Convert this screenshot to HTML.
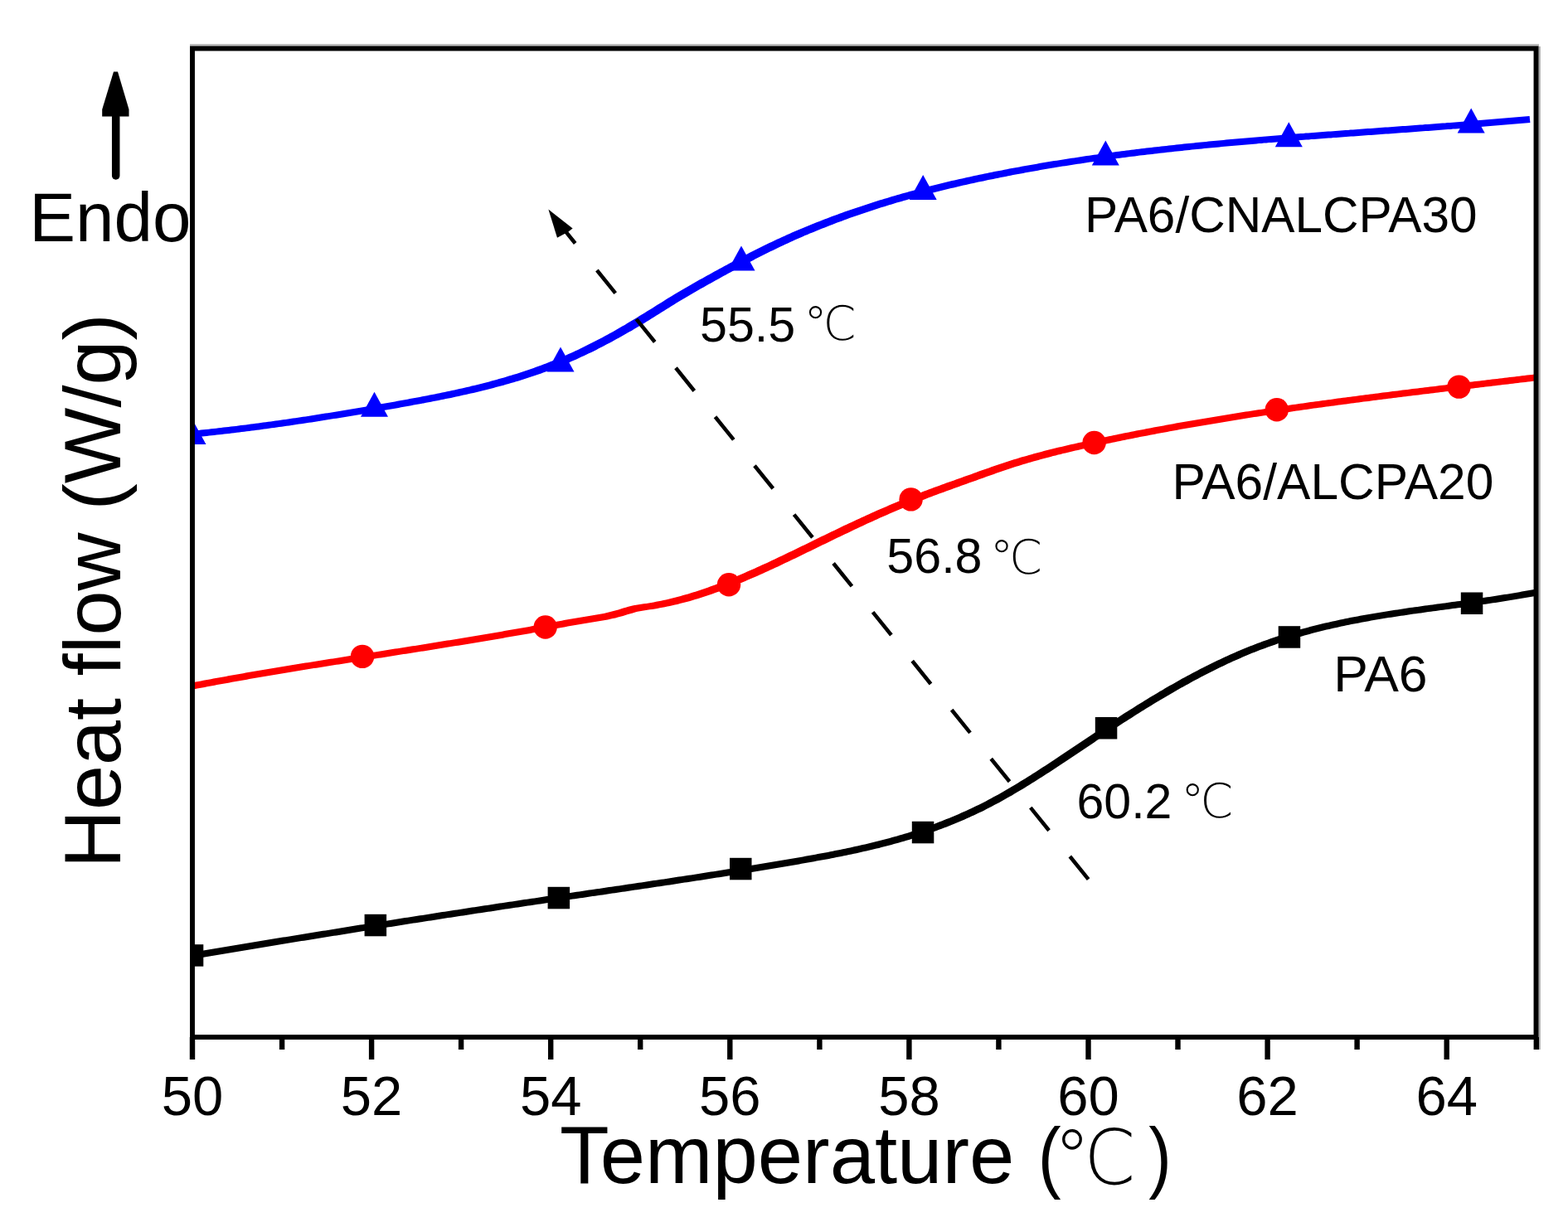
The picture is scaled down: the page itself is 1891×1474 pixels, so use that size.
<!DOCTYPE html>
<html><head><meta charset="utf-8"><title>DSC curves</title><style>
html,body{margin:0;padding:0;background:#fff;overflow:hidden;}
svg{display:block;}
text{font-family:'Liberation Sans',Arial,sans-serif;fill:#000;}
.tl{font-size:67px;}
</style></head><body>
<svg width="1891" height="1474" viewBox="0 0 1891 1474">
<defs><clipPath id="pc"><rect x="232" y="58" width="1621" height="1193"/></clipPath></defs>
<g clip-path="url(#pc)">
<path d="M228.4,528.1 L231.4,527.8 L234.4,527.5 L237.4,527.2 L240.4,526.9 L243.4,526.6 L246.4,526.3 L249.4,525.9 L252.4,525.6 L255.4,525.3 L258.4,525.0 L261.4,524.6 L264.5,524.3 L267.5,523.9 L270.5,523.6 L273.5,523.2 L276.5,522.9 L279.5,522.5 L282.5,522.2 L285.5,521.8 L288.5,521.4 L291.5,521.1 L294.5,520.7 L297.5,520.3 L300.5,519.9 L303.5,519.5 L306.5,519.2 L309.5,518.8 L312.5,518.4 L315.5,518.0 L318.5,517.6 L321.5,517.2 L324.5,516.8 L327.5,516.3 L330.5,515.9 L333.6,515.5 L336.6,515.1 L339.6,514.7 L342.6,514.2 L345.6,513.8 L348.6,513.4 L351.6,512.9 L354.6,512.5 L357.6,512.1 L360.6,511.6 L363.6,511.2 L366.6,510.7 L369.6,510.3 L372.6,509.8 L375.6,509.4 L378.6,508.9 L381.6,508.4 L384.6,508.0 L387.6,507.5 L390.6,507.0 L393.6,506.6 L396.6,506.1 L399.6,505.6 L402.6,505.1 L405.6,504.7 L408.6,504.2 L411.6,503.7 L414.7,503.2 L417.7,502.7 L420.7,502.2 L423.7,501.7 L426.7,501.2 L429.7,500.7 L432.7,500.2 L435.7,499.7 L438.7,499.2 L441.7,498.7 L444.7,498.2 L447.7,497.7 L450.7,497.2 L453.7,496.6 L456.7,496.1 L459.7,495.6 L462.7,495.1 L465.7,494.5 L468.7,494.0 L471.7,493.5 L474.7,492.9 L477.7,492.4 L480.7,491.9 L483.7,491.3 L486.7,490.8 L489.7,490.2 L492.7,489.7 L495.7,489.2 L498.7,488.6 L501.7,488.1 L504.8,487.5 L507.8,486.9 L510.8,486.4 L513.8,485.8 L516.8,485.2 L519.8,484.7 L522.8,484.1 L525.8,483.5 L528.8,482.9 L531.8,482.3 L534.8,481.7 L537.8,481.1 L540.8,480.5 L543.9,479.9 L546.9,479.2 L549.9,478.6 L552.9,477.9 L555.9,477.3 L558.9,476.6 L561.9,476.0 L564.9,475.3 L568.0,474.6 L571.0,473.9 L574.0,473.2 L577.0,472.5 L580.0,471.7 L583.0,471.0 L586.1,470.3 L589.1,469.5 L592.1,468.7 L595.1,467.9 L598.1,467.1 L601.1,466.3 L604.2,465.5 L607.2,464.7 L610.2,463.8 L613.2,463.0 L616.3,462.1 L619.3,461.2 L622.3,460.3 L625.3,459.4 L628.3,458.4 L631.4,457.5 L634.4,456.5 L637.4,455.5 L640.4,454.5 L643.5,453.5 L646.5,452.5 L649.5,451.4 L652.6,450.4 L655.6,449.3 L658.6,448.2 L661.6,447.0 L664.7,445.9 L667.7,444.7 L670.7,443.6 L673.8,442.4 L676.8,441.1 L679.8,439.9 L682.8,438.6 L685.9,437.4 L688.9,436.1 L691.9,434.7 L695.0,433.4 L698.0,432.0 L701.0,430.6 L704.1,429.2 L707.1,427.8 L710.1,426.3 L713.2,424.9 L716.2,423.4 L719.2,421.9 L722.2,420.3 L725.3,418.8 L728.3,417.2 L731.3,415.6 L734.4,414.0 L737.4,412.4 L740.4,410.8 L743.4,409.1 L746.4,407.5 L749.5,405.8 L752.5,404.1 L755.5,402.3 L758.5,400.6 L761.6,398.9 L764.6,397.1 L767.6,395.3 L770.6,393.5 L773.6,391.7 L776.7,389.9 L779.7,388.0 L782.7,386.2 L785.7,384.3 L788.7,382.5 L791.7,380.6 L794.7,378.7 L797.7,376.8 L800.7,374.9 L803.7,373.1 L806.7,371.2 L809.7,369.3 L812.7,367.5 L815.7,365.6 L818.6,363.8 L821.6,362.0 L824.6,360.2 L827.6,358.4 L830.6,356.7 L833.5,354.9 L836.5,353.2 L839.5,351.5 L842.5,349.8 L845.5,348.1 L848.5,346.4 L851.4,344.7 L854.4,343.0 L857.4,341.4 L860.4,339.7 L863.4,338.0 L866.4,336.4 L869.4,334.7 L872.4,333.1 L875.4,331.4 L878.4,329.8 L881.4,328.2 L884.4,326.6 L887.4,324.9 L890.3,323.3 L893.3,321.7 L896.3,320.2 L899.3,318.6 L902.3,317.0 L905.3,315.4 L908.3,313.9 L911.2,312.3 L914.2,310.8 L917.2,309.3 L920.2,307.8 L923.2,306.3 L926.2,304.8 L929.1,303.3 L932.1,301.9 L935.1,300.4 L938.1,299.0 L941.1,297.6 L944.0,296.2 L947.0,294.8 L950.0,293.4 L953.0,292.0 L955.9,290.7 L958.9,289.3 L961.9,288.0 L964.9,286.7 L967.9,285.4 L970.8,284.1 L973.8,282.9 L976.8,281.6 L979.8,280.4 L982.8,279.2 L985.7,277.9 L988.7,276.7 L991.7,275.5 L994.7,274.4 L997.7,273.2 L1000.7,272.0 L1003.6,270.9 L1006.6,269.7 L1009.6,268.6 L1012.6,267.5 L1015.6,266.4 L1018.6,265.3 L1021.5,264.2 L1024.5,263.1 L1027.5,262.1 L1030.5,261.0 L1033.5,260.0 L1036.5,258.9 L1039.4,257.9 L1042.4,256.9 L1045.4,255.9 L1048.4,254.9 L1051.4,253.9 L1054.4,253.0 L1057.4,252.0 L1060.3,251.0 L1063.3,250.1 L1066.3,249.2 L1069.3,248.2 L1072.3,247.3 L1075.3,246.4 L1078.3,245.5 L1081.2,244.6 L1084.2,243.7 L1087.2,242.9 L1090.2,242.0 L1093.2,241.2 L1096.2,240.3 L1099.2,239.5 L1102.1,238.6 L1105.1,237.8 L1108.1,237.0 L1111.1,236.2 L1114.1,235.4 L1117.1,234.6 L1120.1,233.8 L1123.1,233.0 L1126.1,232.3 L1129.0,231.5 L1132.0,230.8 L1135.0,230.0 L1138.0,229.3 L1141.0,228.5 L1144.0,227.8 L1147.0,227.1 L1150.0,226.4 L1153.0,225.7 L1155.9,225.0 L1158.9,224.3 L1161.9,223.6 L1164.9,222.9 L1167.9,222.3 L1170.9,221.6 L1173.9,220.9 L1176.9,220.3 L1179.9,219.6 L1182.9,219.0 L1185.9,218.4 L1188.8,217.7 L1191.8,217.1 L1194.8,216.5 L1197.8,215.9 L1200.8,215.3 L1203.8,214.7 L1206.8,214.1 L1209.8,213.5 L1212.8,212.9 L1215.8,212.3 L1218.8,211.7 L1221.8,211.1 L1224.8,210.6 L1227.7,210.0 L1230.7,209.4 L1233.7,208.9 L1236.7,208.3 L1239.7,207.8 L1242.7,207.3 L1245.7,206.7 L1248.7,206.2 L1251.7,205.7 L1254.7,205.1 L1257.7,204.6 L1260.7,204.1 L1263.7,203.6 L1266.7,203.1 L1269.7,202.6 L1272.7,202.1 L1275.6,201.6 L1278.6,201.1 L1281.6,200.6 L1284.6,200.2 L1287.6,199.7 L1290.6,199.2 L1293.6,198.7 L1296.6,198.3 L1299.6,197.8 L1302.6,197.4 L1305.6,196.9 L1308.6,196.5 L1311.6,196.0 L1314.6,195.6 L1317.6,195.2 L1320.6,194.7 L1323.6,194.3 L1326.6,193.9 L1329.5,193.5 L1332.5,193.1 L1335.5,192.7 L1338.5,192.3 L1341.5,191.9 L1344.5,191.5 L1347.5,191.1 L1350.5,190.7 L1353.5,190.3 L1356.5,189.9 L1359.5,189.5 L1362.5,189.1 L1365.5,188.8 L1368.5,188.4 L1371.5,188.0 L1374.5,187.6 L1377.5,187.3 L1380.5,186.9 L1383.5,186.6 L1386.5,186.2 L1389.5,185.9 L1392.5,185.5 L1395.5,185.2 L1398.5,184.8 L1401.4,184.5 L1404.4,184.2 L1407.4,183.8 L1410.4,183.5 L1413.4,183.2 L1416.4,182.8 L1419.4,182.5 L1422.4,182.2 L1425.4,181.9 L1428.4,181.6 L1431.4,181.2 L1434.4,180.9 L1437.4,180.6 L1440.4,180.3 L1443.4,180.0 L1446.4,179.7 L1449.4,179.4 L1452.4,179.1 L1455.4,178.8 L1458.4,178.5 L1461.4,178.3 L1464.4,178.0 L1467.4,177.7 L1470.4,177.4 L1473.4,177.1 L1476.4,176.8 L1479.4,176.6 L1482.4,176.3 L1485.4,176.0 L1488.4,175.8 L1491.4,175.5 L1494.4,175.2 L1497.4,175.0 L1500.3,174.7 L1503.3,174.4 L1506.3,174.2 L1509.3,173.9 L1512.3,173.7 L1515.3,173.4 L1518.3,173.1 L1521.3,172.9 L1524.3,172.6 L1527.3,172.4 L1530.3,172.1 L1533.3,171.9 L1536.3,171.7 L1539.3,171.4 L1542.3,171.2 L1545.3,170.9 L1548.3,170.7 L1551.3,170.5 L1554.3,170.2 L1557.3,170.0 L1560.3,169.8 L1563.3,169.5 L1566.3,169.3 L1569.3,169.1 L1572.3,168.8 L1575.3,168.6 L1578.3,168.4 L1581.3,168.1 L1584.3,167.9 L1587.3,167.7 L1590.3,167.5 L1593.3,167.2 L1596.3,167.0 L1599.3,166.8 L1602.3,166.6 L1605.3,166.4 L1608.3,166.1 L1611.3,165.9 L1614.3,165.7 L1617.3,165.5 L1620.3,165.3 L1623.3,165.0 L1626.3,164.8 L1629.3,164.6 L1632.3,164.4 L1635.3,164.2 L1638.3,164.0 L1641.3,163.7 L1644.3,163.5 L1647.3,163.3 L1650.3,163.1 L1653.3,162.9 L1656.3,162.7 L1659.3,162.5 L1662.3,162.2 L1665.3,162.0 L1668.3,161.8 L1671.3,161.6 L1674.3,161.4 L1677.3,161.2 L1680.3,161.0 L1683.3,160.7 L1686.3,160.5 L1689.3,160.3 L1692.3,160.1 L1695.3,159.9 L1698.3,159.7 L1701.3,159.4 L1704.3,159.2 L1707.3,159.0 L1710.3,158.8 L1713.3,158.6 L1716.3,158.3 L1719.3,158.1 L1722.3,157.9 L1725.3,157.7 L1728.3,157.5 L1731.3,157.2 L1734.3,157.0 L1737.3,156.8 L1740.3,156.6 L1743.3,156.3 L1746.3,156.1 L1749.3,155.9 L1752.3,155.6 L1755.3,155.4 L1758.3,155.2 L1761.3,155.0 L1764.3,154.7 L1767.3,154.5 L1770.3,154.2 L1773.3,154.0 L1776.3,153.8 L1779.3,153.5 L1782.3,153.3 L1785.3,153.1 L1788.3,152.8 L1791.3,152.6 L1794.3,152.3 L1797.3,152.1 L1800.3,151.8 L1803.3,151.6 L1806.3,151.3 L1809.3,151.1 L1812.3,150.8 L1815.3,150.6 L1818.3,150.3 L1821.3,150.0 L1824.3,149.8 L1827.4,149.5 L1830.4,149.2 L1833.4,149.0 L1836.4,148.7 L1839.4,148.4 L1842.4,148.2 L1845.4,147.9 L1844.6,139.9 L1841.6,140.2 L1838.6,140.5 L1835.6,140.7 L1832.6,141.0 L1829.6,141.3 L1826.6,141.5 L1823.7,141.8 L1820.7,142.1 L1817.7,142.3 L1814.7,142.6 L1811.7,142.8 L1808.7,143.1 L1805.7,143.3 L1802.7,143.6 L1799.7,143.8 L1796.7,144.1 L1793.7,144.3 L1790.7,144.6 L1787.7,144.8 L1784.7,145.1 L1781.7,145.3 L1778.7,145.6 L1775.7,145.8 L1772.7,146.0 L1769.7,146.3 L1766.7,146.5 L1763.7,146.7 L1760.7,147.0 L1757.7,147.2 L1754.7,147.4 L1751.7,147.7 L1748.7,147.9 L1745.7,148.1 L1742.7,148.4 L1739.7,148.6 L1736.7,148.8 L1733.7,149.0 L1730.7,149.3 L1727.7,149.5 L1724.7,149.7 L1721.7,149.9 L1718.7,150.1 L1715.7,150.4 L1712.7,150.6 L1709.7,150.8 L1706.7,151.0 L1703.7,151.2 L1700.7,151.5 L1697.7,151.7 L1694.7,151.9 L1691.7,152.1 L1688.7,152.3 L1685.7,152.5 L1682.7,152.8 L1679.7,153.0 L1676.7,153.2 L1673.7,153.4 L1670.7,153.6 L1667.7,153.8 L1664.7,154.0 L1661.7,154.3 L1658.7,154.5 L1655.7,154.7 L1652.7,154.9 L1649.7,155.1 L1646.7,155.3 L1643.7,155.6 L1640.7,155.8 L1637.7,156.0 L1634.7,156.2 L1631.7,156.4 L1628.7,156.6 L1625.7,156.9 L1622.7,157.1 L1619.7,157.3 L1616.7,157.5 L1613.7,157.7 L1610.7,157.9 L1607.7,158.2 L1604.7,158.4 L1601.7,158.6 L1598.7,158.8 L1595.7,159.0 L1592.7,159.3 L1589.7,159.5 L1586.7,159.7 L1583.7,159.9 L1580.7,160.2 L1577.7,160.4 L1574.7,160.6 L1571.7,160.9 L1568.7,161.1 L1565.7,161.3 L1562.7,161.5 L1559.7,161.8 L1556.7,162.0 L1553.7,162.2 L1550.7,162.5 L1547.7,162.7 L1544.7,163.0 L1541.7,163.2 L1538.7,163.4 L1535.7,163.7 L1532.7,163.9 L1529.7,164.2 L1526.7,164.4 L1523.7,164.7 L1520.7,164.9 L1517.7,165.2 L1514.7,165.4 L1511.7,165.7 L1508.7,165.9 L1505.7,166.2 L1502.7,166.5 L1499.7,166.7 L1496.6,167.0 L1493.6,167.2 L1490.6,167.5 L1487.6,167.8 L1484.6,168.1 L1481.6,168.3 L1478.6,168.6 L1475.6,168.9 L1472.6,169.2 L1469.6,169.4 L1466.6,169.7 L1463.6,170.0 L1460.6,170.3 L1457.6,170.6 L1454.6,170.9 L1451.6,171.2 L1448.6,171.5 L1445.6,171.8 L1442.6,172.1 L1439.6,172.4 L1436.6,172.7 L1433.6,173.0 L1430.6,173.3 L1427.6,173.6 L1424.6,173.9 L1421.6,174.2 L1418.6,174.6 L1415.6,174.9 L1412.6,175.2 L1409.6,175.5 L1406.6,175.9 L1403.6,176.2 L1400.6,176.5 L1397.5,176.9 L1394.5,177.2 L1391.5,177.6 L1388.5,177.9 L1385.5,178.3 L1382.5,178.6 L1379.5,179.0 L1376.5,179.3 L1373.5,179.7 L1370.5,180.1 L1367.5,180.4 L1364.5,180.8 L1361.5,181.2 L1358.5,181.6 L1355.5,182.0 L1352.5,182.3 L1349.5,182.7 L1346.5,183.1 L1343.5,183.5 L1340.5,183.9 L1337.5,184.3 L1334.5,184.7 L1331.5,185.1 L1328.5,185.6 L1325.4,186.0 L1322.4,186.4 L1319.4,186.8 L1316.4,187.3 L1313.4,187.7 L1310.4,188.1 L1307.4,188.6 L1304.4,189.0 L1301.4,189.5 L1298.4,189.9 L1295.4,190.4 L1292.4,190.8 L1289.4,191.3 L1286.4,191.8 L1283.4,192.2 L1280.4,192.7 L1277.4,193.2 L1274.4,193.7 L1271.3,194.1 L1268.3,194.6 L1265.3,195.1 L1262.3,195.6 L1259.3,196.1 L1256.3,196.6 L1253.3,197.1 L1250.3,197.7 L1247.3,198.2 L1244.3,198.7 L1241.3,199.2 L1238.3,199.8 L1235.3,200.3 L1232.3,200.8 L1229.3,201.4 L1226.3,201.9 L1223.2,202.5 L1220.2,203.1 L1217.2,203.6 L1214.2,204.2 L1211.2,204.8 L1208.2,205.4 L1205.2,206.0 L1202.2,206.5 L1199.2,207.1 L1196.2,207.7 L1193.2,208.3 L1190.2,209.0 L1187.2,209.6 L1184.1,210.2 L1181.1,210.8 L1178.1,211.5 L1175.1,212.1 L1172.1,212.8 L1169.1,213.4 L1166.1,214.1 L1163.1,214.7 L1160.1,215.4 L1157.1,216.1 L1154.1,216.8 L1151.0,217.4 L1148.0,218.1 L1145.0,218.8 L1142.0,219.6 L1139.0,220.3 L1136.0,221.0 L1133.0,221.7 L1130.0,222.5 L1127.0,223.2 L1123.9,224.0 L1120.9,224.7 L1117.9,225.5 L1114.9,226.3 L1111.9,227.0 L1108.9,227.8 L1105.9,228.6 L1102.9,229.4 L1099.9,230.3 L1096.8,231.1 L1093.8,231.9 L1090.8,232.7 L1087.8,233.6 L1084.8,234.5 L1081.8,235.3 L1078.8,236.2 L1075.7,237.1 L1072.7,238.0 L1069.7,238.9 L1066.7,239.8 L1063.7,240.7 L1060.7,241.6 L1057.7,242.6 L1054.6,243.5 L1051.6,244.5 L1048.6,245.4 L1045.6,246.4 L1042.6,247.4 L1039.6,248.4 L1036.6,249.4 L1033.5,250.4 L1030.5,251.4 L1027.5,252.5 L1024.5,253.5 L1021.5,254.6 L1018.5,255.6 L1015.4,256.7 L1012.4,257.8 L1009.4,258.9 L1006.4,260.0 L1003.4,261.1 L1000.4,262.2 L997.3,263.4 L994.3,264.5 L991.3,265.7 L988.3,266.9 L985.3,268.1 L982.3,269.3 L979.2,270.5 L976.2,271.7 L973.2,272.9 L970.2,274.2 L967.2,275.5 L964.1,276.7 L961.1,278.0 L958.1,279.3 L955.1,280.6 L952.1,282.0 L949.0,283.3 L946.0,284.7 L943.0,286.0 L940.0,287.4 L936.9,288.8 L933.9,290.2 L930.9,291.7 L927.9,293.1 L924.9,294.6 L921.8,296.0 L918.8,297.5 L915.8,299.0 L912.8,300.5 L909.8,302.1 L906.8,303.6 L903.7,305.1 L900.7,306.7 L897.7,308.2 L894.7,309.8 L891.7,311.4 L888.7,313.0 L885.7,314.6 L882.6,316.2 L879.6,317.8 L876.6,319.4 L873.6,321.1 L870.6,322.7 L867.6,324.3 L864.6,326.0 L861.6,327.6 L858.6,329.3 L855.6,330.9 L852.6,332.6 L849.6,334.3 L846.6,336.0 L843.5,337.6 L840.5,339.3 L837.5,341.0 L834.5,342.7 L831.5,344.5 L828.5,346.2 L825.4,347.9 L822.4,349.7 L819.4,351.5 L816.4,353.3 L813.4,355.1 L810.3,356.9 L807.3,358.8 L804.3,360.6 L801.3,362.5 L798.3,364.4 L795.3,366.2 L792.3,368.1 L789.3,370.0 L786.3,371.9 L783.3,373.7 L780.3,375.6 L777.3,377.5 L774.3,379.3 L771.3,381.1 L768.4,383.0 L765.4,384.8 L762.4,386.6 L759.4,388.3 L756.4,390.1 L753.5,391.9 L750.5,393.6 L747.5,395.3 L744.5,397.0 L741.6,398.7 L738.6,400.4 L735.6,402.0 L732.6,403.7 L729.6,405.3 L726.7,406.9 L723.7,408.5 L720.7,410.0 L717.8,411.6 L714.8,413.1 L711.8,414.6 L708.8,416.1 L705.9,417.6 L702.9,419.1 L699.9,420.5 L697.0,421.9 L694.0,423.3 L691.0,424.7 L688.1,426.0 L685.1,427.3 L682.1,428.7 L679.2,429.9 L676.2,431.2 L673.2,432.5 L670.2,433.7 L667.3,434.9 L664.3,436.1 L661.3,437.3 L658.4,438.4 L655.4,439.5 L652.4,440.7 L649.4,441.8 L646.5,442.8 L643.5,443.9 L640.5,444.9 L637.6,446.0 L634.6,447.0 L631.6,448.0 L628.6,449.0 L625.7,449.9 L622.7,450.9 L619.7,451.8 L616.7,452.7 L613.7,453.6 L610.8,454.5 L607.8,455.4 L604.8,456.3 L601.8,457.1 L598.9,457.9 L595.9,458.8 L592.9,459.6 L589.9,460.4 L586.9,461.2 L583.9,461.9 L581.0,462.7 L578.0,463.5 L575.0,464.2 L572.0,464.9 L569.0,465.6 L566.0,466.4 L563.1,467.1 L560.1,467.7 L557.1,468.4 L554.1,469.1 L551.1,469.8 L548.1,470.4 L545.1,471.1 L542.1,471.7 L539.2,472.3 L536.2,473.0 L533.2,473.6 L530.2,474.2 L527.2,474.8 L524.2,475.4 L521.2,476.0 L518.2,476.6 L515.2,477.2 L512.2,477.7 L509.2,478.3 L506.2,478.9 L503.2,479.4 L500.3,480.0 L497.3,480.6 L494.3,481.1 L491.3,481.7 L488.3,482.2 L485.3,482.8 L482.3,483.3 L479.3,483.8 L476.3,484.4 L473.3,484.9 L470.3,485.5 L467.3,486.0 L464.3,486.5 L461.3,487.0 L458.3,487.6 L455.3,488.1 L452.3,488.6 L449.3,489.1 L446.3,489.7 L443.3,490.2 L440.3,490.7 L437.3,491.2 L434.3,491.7 L431.3,492.2 L428.3,492.7 L425.3,493.2 L422.3,493.7 L419.3,494.2 L416.3,494.7 L413.3,495.2 L410.4,495.7 L407.4,496.2 L404.4,496.7 L401.4,497.2 L398.4,497.7 L395.4,498.2 L392.4,498.6 L389.4,499.1 L386.4,499.6 L383.4,500.1 L380.4,500.5 L377.4,501.0 L374.4,501.5 L371.4,501.9 L368.4,502.4 L365.4,502.8 L362.4,503.3 L359.4,503.7 L356.4,504.2 L353.4,504.6 L350.4,505.0 L347.4,505.5 L344.4,505.9 L341.4,506.3 L338.4,506.7 L335.4,507.2 L332.4,507.6 L329.5,508.0 L326.5,508.4 L323.5,508.8 L320.5,509.2 L317.5,509.6 L314.5,510.0 L311.5,510.4 L308.5,510.8 L305.5,511.2 L302.5,511.6 L299.5,512.0 L296.5,512.4 L293.5,512.8 L290.5,513.1 L287.5,513.5 L284.5,513.9 L281.5,514.2 L278.5,514.6 L275.5,514.9 L272.5,515.3 L269.5,515.6 L266.5,516.0 L263.5,516.3 L260.6,516.7 L257.6,517.0 L254.6,517.3 L251.6,517.7 L248.6,518.0 L245.6,518.3 L242.6,518.6 L239.6,518.9 L236.6,519.3 L233.6,519.6 L230.6,519.9 L227.6,520.2Z" fill="#0000ff"/>
<path d="M228.8,832.3 L231.8,831.7 L234.8,831.2 L237.8,830.6 L240.8,830.0 L243.8,829.5 L246.8,828.9 L249.8,828.3 L252.7,827.8 L255.7,827.2 L258.7,826.7 L261.7,826.1 L264.7,825.5 L267.7,825.0 L270.7,824.5 L273.7,823.9 L276.7,823.4 L279.7,822.8 L282.7,822.3 L285.7,821.8 L288.7,821.2 L291.7,820.7 L294.7,820.2 L297.7,819.7 L300.7,819.1 L303.7,818.6 L306.7,818.1 L309.7,817.6 L312.7,817.1 L315.7,816.5 L318.7,816.0 L321.7,815.5 L324.7,815.0 L327.7,814.5 L330.7,814.0 L333.7,813.5 L336.7,813.0 L339.7,812.5 L342.7,812.0 L345.7,811.5 L348.7,811.0 L351.7,810.5 L354.7,810.0 L357.6,809.5 L360.6,809.0 L363.6,808.6 L366.6,808.1 L369.6,807.6 L372.6,807.1 L375.6,806.6 L378.6,806.1 L381.6,805.7 L384.6,805.2 L387.6,804.7 L390.6,804.2 L393.6,803.7 L396.6,803.3 L399.6,802.8 L402.6,802.3 L405.6,801.8 L408.6,801.4 L411.6,800.9 L414.6,800.4 L417.6,799.9 L420.6,799.5 L423.6,799.0 L426.6,798.5 L429.6,798.1 L432.6,797.6 L435.6,797.1 L438.6,796.6 L441.6,796.2 L444.6,795.7 L447.6,795.2 L450.6,794.8 L453.6,794.3 L456.6,793.8 L459.6,793.4 L462.6,792.9 L465.6,792.4 L468.6,792.0 L471.6,791.5 L474.6,791.0 L477.6,790.6 L480.6,790.1 L483.6,789.6 L486.6,789.1 L489.6,788.7 L492.6,788.2 L495.6,787.7 L498.6,787.3 L501.6,786.8 L504.6,786.3 L507.6,785.8 L510.6,785.4 L513.6,784.9 L516.6,784.4 L519.6,783.9 L522.6,783.5 L525.6,783.0 L528.6,782.5 L531.6,782.0 L534.6,781.6 L537.6,781.1 L540.6,780.6 L543.6,780.1 L546.6,779.6 L549.6,779.1 L552.6,778.7 L555.6,778.2 L558.7,777.7 L561.7,777.2 L564.7,776.7 L567.7,776.2 L570.7,775.7 L573.7,775.2 L576.7,774.7 L579.7,774.2 L582.7,773.7 L585.7,773.2 L588.7,772.7 L591.7,772.2 L594.7,771.7 L597.7,771.2 L600.7,770.7 L603.7,770.2 L606.7,769.7 L609.7,769.1 L612.7,768.6 L615.7,768.1 L618.7,767.6 L621.7,767.1 L624.7,766.5 L627.7,766.0 L630.7,765.5 L633.7,765.0 L636.7,764.4 L639.7,763.9 L642.7,763.3 L645.7,762.8 L648.7,762.3 L651.7,761.7 L654.7,761.2 L657.7,760.6 L660.7,760.1 L663.7,759.5 L666.7,759.0 L669.7,758.4 L672.7,757.8 L675.7,757.3 L678.7,756.7 L681.7,756.2 L684.7,755.6 L687.7,755.1 L690.7,754.6 L693.7,754.0 L696.7,753.5 L699.7,753.0 L702.6,752.5 L705.6,752.0 L708.6,751.5 L711.6,751.1 L714.6,750.6 L717.7,750.1 L720.7,749.6 L723.7,749.1 L726.8,748.6 L729.8,748.0 L732.9,747.4 L735.9,746.8 L739.0,746.1 L742.1,745.4 L745.2,744.6 L748.2,743.8 L751.3,742.9 L754.3,742.0 L757.3,741.1 L760.2,740.2 L763.1,739.4 L766.0,738.6 L768.8,737.8 L771.7,737.2 L774.6,736.7 L777.6,736.2 L780.6,735.8 L783.6,735.3 L786.6,734.9 L789.7,734.4 L792.7,733.9 L795.8,733.3 L798.8,732.8 L801.8,732.2 L804.9,731.6 L807.9,730.9 L811.0,730.3 L814.0,729.6 L817.0,728.9 L820.1,728.1 L823.1,727.3 L826.2,726.5 L829.2,725.7 L832.2,724.9 L835.3,724.0 L838.3,723.1 L841.3,722.2 L844.4,721.2 L847.4,720.2 L850.4,719.3 L853.5,718.3 L856.5,717.2 L859.5,716.2 L862.6,715.1 L865.6,714.0 L868.6,712.9 L871.6,711.8 L874.7,710.6 L877.7,709.5 L880.7,708.3 L883.7,707.1 L886.8,705.9 L889.8,704.7 L892.8,703.4 L895.8,702.2 L898.8,700.9 L901.9,699.6 L904.9,698.3 L907.9,697.0 L910.9,695.7 L913.9,694.4 L917.0,693.0 L920.0,691.7 L923.0,690.3 L926.0,689.0 L929.0,687.6 L932.0,686.2 L935.0,684.8 L938.1,683.4 L941.1,682.0 L944.1,680.6 L947.1,679.1 L950.1,677.7 L953.1,676.3 L956.1,674.8 L959.1,673.4 L962.1,671.9 L965.1,670.5 L968.1,669.0 L971.1,667.6 L974.1,666.1 L977.1,664.7 L980.1,663.2 L983.1,661.7 L986.1,660.3 L989.1,658.8 L992.1,657.3 L995.1,655.9 L998.1,654.4 L1001.1,653.0 L1004.1,651.5 L1007.1,650.1 L1010.1,648.6 L1013.1,647.2 L1016.1,645.7 L1019.1,644.3 L1022.1,642.9 L1025.1,641.4 L1028.1,640.0 L1031.1,638.6 L1034.0,637.2 L1037.0,635.8 L1040.0,634.4 L1043.0,633.0 L1046.0,631.6 L1049.0,630.3 L1052.0,628.9 L1055.0,627.5 L1058.0,626.2 L1060.9,624.8 L1063.9,623.5 L1066.9,622.2 L1069.9,620.9 L1072.9,619.6 L1075.9,618.3 L1078.9,617.0 L1081.8,615.7 L1084.8,614.4 L1087.8,613.2 L1090.8,611.9 L1093.8,610.7 L1096.8,609.5 L1099.7,608.3 L1102.7,607.1 L1105.7,605.9 L1108.7,604.7 L1111.7,603.5 L1114.7,602.4 L1117.6,601.2 L1120.6,600.1 L1123.6,599.0 L1126.6,597.8 L1129.6,596.7 L1132.6,595.6 L1135.6,594.5 L1138.6,593.4 L1141.6,592.3 L1144.6,591.2 L1147.5,590.2 L1150.5,589.1 L1153.5,588.0 L1156.5,586.9 L1159.5,585.8 L1162.5,584.8 L1165.5,583.7 L1168.5,582.6 L1171.5,581.5 L1174.5,580.5 L1177.5,579.4 L1180.5,578.3 L1183.5,577.2 L1186.5,576.2 L1189.5,575.1 L1192.5,574.0 L1195.5,572.9 L1198.5,571.9 L1201.5,570.8 L1204.5,569.8 L1207.5,568.8 L1210.4,567.7 L1213.4,566.7 L1216.4,565.7 L1219.4,564.7 L1222.3,563.8 L1225.3,562.8 L1228.3,561.9 L1231.3,561.0 L1234.3,560.1 L1237.2,559.2 L1240.2,558.3 L1243.2,557.4 L1246.2,556.6 L1249.2,555.7 L1252.1,554.9 L1255.1,554.1 L1258.1,553.3 L1261.1,552.5 L1264.1,551.7 L1267.1,550.9 L1270.0,550.1 L1273.0,549.4 L1276.0,548.6 L1279.0,547.9 L1282.0,547.1 L1285.0,546.4 L1288.0,545.7 L1291.0,545.0 L1294.0,544.3 L1296.9,543.6 L1299.9,542.9 L1302.9,542.2 L1305.9,541.6 L1308.9,540.9 L1311.9,540.2 L1314.9,539.6 L1317.9,538.9 L1320.9,538.3 L1323.9,537.6 L1326.9,537.0 L1329.9,536.3 L1332.9,535.7 L1335.9,535.1 L1338.9,534.4 L1341.8,533.8 L1344.8,533.2 L1347.8,532.6 L1350.8,531.9 L1353.8,531.3 L1356.8,530.7 L1359.8,530.1 L1362.8,529.5 L1365.8,528.9 L1368.8,528.3 L1371.8,527.7 L1374.8,527.1 L1377.8,526.5 L1380.8,526.0 L1383.8,525.4 L1386.8,524.8 L1389.8,524.2 L1392.8,523.7 L1395.8,523.1 L1398.8,522.5 L1401.7,522.0 L1404.7,521.4 L1407.7,520.9 L1410.7,520.3 L1413.7,519.8 L1416.7,519.2 L1419.7,518.7 L1422.7,518.1 L1425.7,517.6 L1428.7,517.1 L1431.7,516.5 L1434.7,516.0 L1437.7,515.5 L1440.7,514.9 L1443.7,514.4 L1446.7,513.9 L1449.7,513.4 L1452.7,512.9 L1455.7,512.4 L1458.7,511.9 L1461.7,511.4 L1464.7,510.9 L1467.7,510.4 L1470.7,509.9 L1473.7,509.4 L1476.6,508.9 L1479.6,508.4 L1482.6,507.9 L1485.6,507.4 L1488.6,506.9 L1491.6,506.4 L1494.6,506.0 L1497.6,505.5 L1500.6,505.0 L1503.6,504.5 L1506.6,504.1 L1509.6,503.6 L1512.6,503.1 L1515.6,502.7 L1518.6,502.2 L1521.6,501.8 L1524.6,501.3 L1527.6,500.9 L1530.6,500.4 L1533.6,500.0 L1536.6,499.5 L1539.6,499.1 L1542.6,498.6 L1545.6,498.2 L1548.6,497.8 L1551.6,497.3 L1554.6,496.9 L1557.6,496.5 L1560.6,496.0 L1563.6,495.6 L1566.6,495.2 L1569.6,494.7 L1572.6,494.3 L1575.6,493.9 L1578.6,493.5 L1581.6,493.1 L1584.5,492.6 L1587.5,492.2 L1590.5,491.8 L1593.5,491.4 L1596.5,491.0 L1599.5,490.6 L1602.5,490.2 L1605.5,489.8 L1608.5,489.4 L1611.5,489.0 L1614.5,488.6 L1617.5,488.2 L1620.5,487.8 L1623.5,487.4 L1626.5,487.0 L1629.5,486.6 L1632.5,486.2 L1635.5,485.8 L1638.5,485.4 L1641.5,485.0 L1644.5,484.6 L1647.5,484.2 L1650.5,483.9 L1653.5,483.5 L1656.5,483.1 L1659.5,482.7 L1662.5,482.3 L1665.5,481.9 L1668.5,481.6 L1671.5,481.2 L1674.5,480.8 L1677.5,480.4 L1680.5,480.1 L1683.5,479.7 L1686.5,479.3 L1689.5,478.9 L1692.5,478.6 L1695.5,478.2 L1698.5,477.8 L1701.5,477.5 L1704.5,477.1 L1707.5,476.7 L1710.5,476.4 L1713.5,476.0 L1716.5,475.6 L1719.5,475.3 L1722.5,474.9 L1725.5,474.5 L1728.5,474.2 L1731.5,473.8 L1734.5,473.4 L1737.5,473.1 L1740.5,472.7 L1743.5,472.3 L1746.5,472.0 L1749.5,471.6 L1752.5,471.3 L1755.5,470.9 L1758.5,470.5 L1761.5,470.2 L1764.5,469.8 L1767.5,469.5 L1770.5,469.1 L1773.5,468.8 L1776.5,468.4 L1779.5,468.0 L1782.5,467.7 L1785.5,467.3 L1788.5,467.0 L1791.5,466.6 L1794.5,466.3 L1797.5,465.9 L1800.5,465.5 L1803.5,465.2 L1806.5,464.8 L1809.5,464.5 L1812.5,464.1 L1815.5,463.8 L1818.5,463.4 L1821.5,463.0 L1824.5,462.7 L1827.5,462.3 L1830.5,462.0 L1833.5,461.6 L1836.5,461.2 L1839.5,460.9 L1842.5,460.5 L1845.5,460.2 L1848.5,459.8 L1851.5,459.4 L1854.5,459.1 L1853.5,451.1 L1850.5,451.5 L1847.5,451.9 L1844.5,452.2 L1841.5,452.6 L1838.5,452.9 L1835.5,453.3 L1832.5,453.7 L1829.5,454.0 L1826.5,454.4 L1823.5,454.7 L1820.5,455.1 L1817.5,455.5 L1814.5,455.8 L1811.5,456.2 L1808.5,456.5 L1805.5,456.9 L1802.5,457.2 L1799.5,457.6 L1796.5,458.0 L1793.5,458.3 L1790.5,458.7 L1787.5,459.0 L1784.5,459.4 L1781.5,459.7 L1778.5,460.1 L1775.5,460.5 L1772.5,460.8 L1769.5,461.2 L1766.5,461.5 L1763.5,461.9 L1760.5,462.2 L1757.5,462.6 L1754.5,463.0 L1751.5,463.3 L1748.5,463.7 L1745.5,464.0 L1742.5,464.4 L1739.5,464.8 L1736.5,465.1 L1733.5,465.5 L1730.5,465.9 L1727.5,466.2 L1724.5,466.6 L1721.5,466.9 L1718.5,467.3 L1715.5,467.7 L1712.5,468.0 L1709.5,468.4 L1706.5,468.8 L1703.5,469.1 L1700.5,469.5 L1697.5,469.9 L1694.5,470.3 L1691.5,470.6 L1688.5,471.0 L1685.5,471.4 L1682.5,471.7 L1679.5,472.1 L1676.5,472.5 L1673.5,472.9 L1670.5,473.3 L1667.5,473.6 L1664.5,474.0 L1661.5,474.4 L1658.5,474.8 L1655.5,475.2 L1652.5,475.5 L1649.5,475.9 L1646.5,476.3 L1643.5,476.7 L1640.5,477.1 L1637.5,477.5 L1634.5,477.9 L1631.5,478.3 L1628.5,478.7 L1625.5,479.0 L1622.5,479.4 L1619.5,479.8 L1616.5,480.2 L1613.5,480.6 L1610.5,481.0 L1607.5,481.4 L1604.5,481.9 L1601.5,482.3 L1598.5,482.7 L1595.5,483.1 L1592.5,483.5 L1589.5,483.9 L1586.5,484.3 L1583.5,484.7 L1580.4,485.1 L1577.4,485.6 L1574.4,486.0 L1571.4,486.4 L1568.4,486.8 L1565.4,487.3 L1562.4,487.7 L1559.4,488.1 L1556.4,488.5 L1553.4,489.0 L1550.4,489.4 L1547.4,489.8 L1544.4,490.3 L1541.4,490.7 L1538.4,491.2 L1535.4,491.6 L1532.4,492.1 L1529.4,492.5 L1526.4,493.0 L1523.4,493.4 L1520.4,493.9 L1517.4,494.3 L1514.4,494.8 L1511.4,495.2 L1508.4,495.7 L1505.4,496.2 L1502.4,496.6 L1499.4,497.1 L1496.4,497.6 L1493.4,498.0 L1490.4,498.5 L1487.4,499.0 L1484.4,499.5 L1481.4,499.9 L1478.4,500.4 L1475.4,500.9 L1472.3,501.4 L1469.3,501.9 L1466.3,502.4 L1463.3,502.9 L1460.3,503.4 L1457.3,503.9 L1454.3,504.4 L1451.3,504.9 L1448.3,505.4 L1445.3,505.9 L1442.3,506.4 L1439.3,506.9 L1436.3,507.5 L1433.3,508.0 L1430.3,508.5 L1427.3,509.0 L1424.3,509.6 L1421.3,510.1 L1418.3,510.6 L1415.3,511.2 L1412.3,511.7 L1409.3,512.3 L1406.3,512.8 L1403.3,513.4 L1400.3,513.9 L1397.2,514.5 L1394.2,515.0 L1391.2,515.6 L1388.2,516.2 L1385.2,516.7 L1382.2,517.3 L1379.2,517.9 L1376.2,518.5 L1373.2,519.0 L1370.2,519.6 L1367.2,520.2 L1364.2,520.8 L1361.2,521.4 L1358.2,522.0 L1355.2,522.6 L1352.2,523.2 L1349.2,523.8 L1346.2,524.4 L1343.2,525.0 L1340.2,525.7 L1337.1,526.3 L1334.1,526.9 L1331.1,527.5 L1328.1,528.2 L1325.1,528.8 L1322.1,529.4 L1319.1,530.1 L1316.1,530.7 L1313.1,531.4 L1310.1,532.0 L1307.1,532.7 L1304.1,533.4 L1301.1,534.0 L1298.1,534.7 L1295.1,535.4 L1292.0,536.1 L1289.0,536.8 L1286.0,537.5 L1283.0,538.2 L1280.0,538.9 L1277.0,539.6 L1274.0,540.3 L1271.0,541.1 L1268.0,541.8 L1264.9,542.6 L1261.9,543.3 L1258.9,544.1 L1255.9,544.9 L1252.9,545.7 L1249.9,546.5 L1246.8,547.3 L1243.8,548.2 L1240.8,549.0 L1237.8,549.9 L1234.8,550.7 L1231.7,551.6 L1228.7,552.5 L1225.7,553.4 L1222.7,554.3 L1219.7,555.3 L1216.6,556.2 L1213.6,557.2 L1210.6,558.2 L1207.6,559.2 L1204.5,560.2 L1201.5,561.2 L1198.5,562.3 L1195.5,563.3 L1192.5,564.4 L1189.5,565.4 L1186.5,566.5 L1183.5,567.6 L1180.5,568.6 L1177.5,569.7 L1174.5,570.8 L1171.5,571.9 L1168.5,573.0 L1165.5,574.0 L1162.5,575.1 L1159.5,576.2 L1156.5,577.3 L1153.5,578.3 L1150.5,579.4 L1147.5,580.5 L1144.5,581.6 L1141.4,582.6 L1138.4,583.7 L1135.4,584.8 L1132.4,585.9 L1129.4,587.0 L1126.4,588.1 L1123.4,589.2 L1120.4,590.3 L1117.4,591.5 L1114.4,592.6 L1111.3,593.7 L1108.3,594.9 L1105.3,596.0 L1102.3,597.2 L1099.3,598.4 L1096.3,599.6 L1093.2,600.8 L1090.2,602.0 L1087.2,603.2 L1084.2,604.5 L1081.2,605.7 L1078.2,607.0 L1075.1,608.3 L1072.1,609.6 L1069.1,610.9 L1066.1,612.2 L1063.1,613.5 L1060.1,614.8 L1057.1,616.1 L1054.0,617.5 L1051.0,618.8 L1048.0,620.2 L1045.0,621.5 L1042.0,622.9 L1039.0,624.3 L1036.0,625.7 L1033.0,627.1 L1030.0,628.5 L1026.9,629.9 L1023.9,631.3 L1020.9,632.7 L1017.9,634.1 L1014.9,635.6 L1011.9,637.0 L1008.9,638.4 L1005.9,639.9 L1002.9,641.3 L999.9,642.8 L996.9,644.2 L993.9,645.7 L990.9,647.1 L987.9,648.6 L984.9,650.1 L981.9,651.5 L978.9,653.0 L975.9,654.5 L972.9,655.9 L969.9,657.4 L966.9,658.8 L963.9,660.3 L960.9,661.8 L957.9,663.2 L954.9,664.7 L951.9,666.1 L948.9,667.5 L945.9,669.0 L942.9,670.4 L939.9,671.8 L936.9,673.3 L933.9,674.7 L931.0,676.1 L928.0,677.5 L925.0,678.9 L922.0,680.2 L919.0,681.6 L916.0,683.0 L913.0,684.3 L910.1,685.7 L907.1,687.0 L904.1,688.3 L901.1,689.6 L898.1,690.9 L895.2,692.2 L892.2,693.5 L889.2,694.8 L886.2,696.0 L883.2,697.2 L880.3,698.4 L877.3,699.6 L874.3,700.8 L871.3,702.0 L868.4,703.2 L865.4,704.3 L862.4,705.4 L859.4,706.5 L856.5,707.6 L853.5,708.7 L850.5,709.7 L847.6,710.7 L844.6,711.7 L841.6,712.7 L838.7,713.7 L835.7,714.6 L832.7,715.5 L829.8,716.4 L826.8,717.3 L823.8,718.1 L820.9,719.0 L817.9,719.8 L815.0,720.6 L812.0,721.3 L809.0,722.0 L806.1,722.7 L803.1,723.4 L800.2,724.1 L797.2,724.7 L794.2,725.3 L791.3,725.8 L788.3,726.4 L785.4,726.9 L782.4,727.4 L779.4,727.9 L776.4,728.3 L773.4,728.8 L770.3,729.2 L767.2,729.7 L764.0,730.3 L760.9,731.0 L757.8,731.8 L754.7,732.7 L751.7,733.6 L748.7,734.5 L745.8,735.4 L742.8,736.2 L739.9,737.1 L737.0,737.8 L734.1,738.6 L731.1,739.2 L728.2,739.9 L725.2,740.5 L722.3,741.1 L719.3,741.6 L716.3,742.1 L713.4,742.6 L710.4,743.1 L707.4,743.6 L704.4,744.1 L701.4,744.6 L698.3,745.0 L695.3,745.5 L692.3,746.0 L689.3,746.6 L686.3,747.1 L683.3,747.6 L680.3,748.1 L677.3,748.7 L674.3,749.2 L671.3,749.8 L668.3,750.3 L665.3,750.9 L662.3,751.5 L659.3,752.0 L656.3,752.6 L653.3,753.1 L650.3,753.7 L647.3,754.2 L644.3,754.8 L641.3,755.3 L638.3,755.9 L635.3,756.4 L632.3,756.9 L629.3,757.5 L626.3,758.0 L623.3,758.5 L620.3,759.1 L617.3,759.6 L614.3,760.1 L611.3,760.6 L608.3,761.1 L605.3,761.7 L602.3,762.2 L599.3,762.7 L596.3,763.2 L593.3,763.7 L590.3,764.2 L587.3,764.7 L584.3,765.2 L581.3,765.7 L578.3,766.2 L575.3,766.7 L572.3,767.2 L569.3,767.7 L566.3,768.2 L563.3,768.7 L560.3,769.2 L557.3,769.7 L554.4,770.2 L551.4,770.7 L548.4,771.2 L545.4,771.7 L542.4,772.2 L539.4,772.6 L536.4,773.1 L533.4,773.6 L530.4,774.1 L527.4,774.6 L524.4,775.0 L521.4,775.5 L518.4,776.0 L515.4,776.5 L512.4,777.0 L509.4,777.4 L506.4,777.9 L503.4,778.4 L500.4,778.9 L497.4,779.3 L494.4,779.8 L491.4,780.3 L488.4,780.7 L485.4,781.2 L482.4,781.7 L479.4,782.2 L476.4,782.6 L473.4,783.1 L470.4,783.6 L467.4,784.0 L464.4,784.5 L461.4,785.0 L458.4,785.4 L455.4,785.9 L452.4,786.4 L449.4,786.8 L446.4,787.3 L443.4,787.8 L440.4,788.2 L437.4,788.7 L434.4,789.2 L431.4,789.7 L428.4,790.1 L425.4,790.6 L422.4,791.1 L419.4,791.5 L416.4,792.0 L413.4,792.5 L410.4,792.9 L407.4,793.4 L404.4,793.9 L401.4,794.4 L398.4,794.8 L395.4,795.3 L392.4,795.8 L389.4,796.3 L386.4,796.7 L383.4,797.2 L380.4,797.7 L377.4,798.2 L374.4,798.7 L371.4,799.2 L368.4,799.6 L365.4,800.1 L362.4,800.6 L359.4,801.1 L356.4,801.6 L353.3,802.1 L350.3,802.6 L347.3,803.0 L344.3,803.5 L341.3,804.0 L338.3,804.5 L335.3,805.0 L332.3,805.5 L329.3,806.0 L326.3,806.5 L323.3,807.0 L320.3,807.5 L317.3,808.0 L314.3,808.6 L311.3,809.1 L308.3,809.6 L305.3,810.1 L302.3,810.6 L299.3,811.1 L296.3,811.6 L293.3,812.2 L290.3,812.7 L287.3,813.2 L284.3,813.7 L281.3,814.3 L278.3,814.8 L275.3,815.3 L272.3,815.9 L269.3,816.4 L266.3,817.0 L263.3,817.5 L260.3,818.1 L257.3,818.6 L254.3,819.2 L251.3,819.7 L248.2,820.3 L245.2,820.8 L242.2,821.4 L239.2,821.9 L236.2,822.5 L233.2,823.1 L230.2,823.7 L227.2,824.2Z" fill="#ff0000"/>
<path d="M228.7,1157.5 L231.7,1157.0 L234.7,1156.5 L237.7,1156.0 L240.7,1155.5 L243.7,1155.0 L246.7,1154.5 L249.7,1154.0 L252.7,1153.5 L255.7,1153.0 L258.7,1152.5 L261.7,1152.0 L264.7,1151.5 L267.7,1151.0 L270.7,1150.5 L273.7,1150.0 L276.7,1149.5 L279.7,1149.0 L282.7,1148.5 L285.7,1148.0 L288.7,1147.5 L291.7,1147.0 L294.7,1146.5 L297.7,1146.0 L300.7,1145.5 L303.7,1145.0 L306.7,1144.5 L309.7,1144.0 L312.7,1143.5 L315.7,1143.0 L318.7,1142.5 L321.7,1142.0 L324.7,1141.5 L327.7,1141.0 L330.7,1140.5 L333.7,1140.0 L336.6,1139.6 L339.6,1139.1 L342.6,1138.6 L345.6,1138.1 L348.6,1137.6 L351.6,1137.1 L354.6,1136.6 L357.6,1136.1 L360.6,1135.6 L363.6,1135.1 L366.6,1134.7 L369.6,1134.2 L372.6,1133.7 L375.6,1133.2 L378.6,1132.7 L381.6,1132.2 L384.6,1131.7 L387.6,1131.3 L390.6,1130.8 L393.6,1130.3 L396.6,1129.8 L399.6,1129.3 L402.6,1128.8 L405.6,1128.4 L408.6,1127.9 L411.6,1127.4 L414.6,1126.9 L417.6,1126.4 L420.6,1126.0 L423.6,1125.5 L426.6,1125.0 L429.6,1124.5 L432.6,1124.0 L435.6,1123.6 L438.6,1123.1 L441.6,1122.6 L444.6,1122.1 L447.6,1121.7 L450.6,1121.2 L453.6,1120.7 L456.6,1120.2 L459.6,1119.8 L462.6,1119.3 L465.6,1118.8 L468.6,1118.3 L471.6,1117.9 L474.6,1117.4 L477.6,1116.9 L480.6,1116.5 L483.6,1116.0 L486.6,1115.5 L489.6,1115.0 L492.6,1114.6 L495.6,1114.1 L498.6,1113.6 L501.6,1113.2 L504.6,1112.7 L507.6,1112.2 L510.6,1111.8 L513.6,1111.3 L516.6,1110.8 L519.6,1110.4 L522.6,1109.9 L525.6,1109.4 L528.6,1109.0 L531.6,1108.5 L534.6,1108.1 L537.6,1107.6 L540.6,1107.1 L543.6,1106.7 L546.6,1106.2 L549.6,1105.7 L552.6,1105.3 L555.6,1104.8 L558.6,1104.4 L561.6,1103.9 L564.6,1103.5 L567.6,1103.0 L570.6,1102.5 L573.6,1102.1 L576.6,1101.6 L579.6,1101.2 L582.6,1100.7 L585.6,1100.3 L588.6,1099.8 L591.6,1099.4 L594.6,1098.9 L597.6,1098.4 L600.6,1098.0 L603.6,1097.5 L606.6,1097.1 L609.6,1096.6 L612.6,1096.2 L615.6,1095.7 L618.6,1095.3 L621.6,1094.8 L624.6,1094.4 L627.6,1093.9 L630.6,1093.5 L633.6,1093.1 L636.6,1092.6 L639.6,1092.2 L642.6,1091.7 L645.6,1091.3 L648.6,1090.8 L651.6,1090.4 L654.6,1089.9 L657.6,1089.5 L660.6,1089.1 L663.6,1088.6 L666.6,1088.2 L669.6,1087.7 L672.6,1087.3 L675.6,1086.8 L678.6,1086.4 L681.6,1086.0 L684.6,1085.5 L687.6,1085.1 L690.6,1084.6 L693.6,1084.2 L696.6,1083.8 L699.6,1083.3 L702.6,1082.9 L705.6,1082.4 L708.6,1082.0 L711.6,1081.6 L714.6,1081.1 L717.6,1080.7 L720.6,1080.2 L723.6,1079.8 L726.6,1079.4 L729.6,1078.9 L732.6,1078.5 L735.6,1078.0 L738.6,1077.6 L741.6,1077.2 L744.6,1076.7 L747.6,1076.3 L750.6,1075.8 L753.6,1075.4 L756.6,1075.0 L759.6,1074.5 L762.6,1074.1 L765.6,1073.6 L768.6,1073.2 L771.6,1072.7 L774.6,1072.3 L777.6,1071.8 L780.6,1071.4 L783.6,1071.0 L786.6,1070.5 L789.6,1070.1 L792.6,1069.6 L795.6,1069.2 L798.6,1068.7 L801.6,1068.3 L804.6,1067.8 L807.6,1067.4 L810.6,1066.9 L813.6,1066.5 L816.6,1066.0 L819.6,1065.6 L822.6,1065.1 L825.6,1064.6 L828.6,1064.2 L831.6,1063.7 L834.6,1063.3 L837.6,1062.8 L840.6,1062.3 L843.6,1061.9 L846.6,1061.4 L849.6,1061.0 L852.6,1060.5 L855.6,1060.0 L858.6,1059.6 L861.6,1059.1 L864.6,1058.6 L867.6,1058.2 L870.6,1057.7 L873.6,1057.2 L876.6,1056.7 L879.6,1056.3 L882.6,1055.8 L885.6,1055.3 L888.6,1054.8 L891.6,1054.4 L894.6,1053.9 L897.6,1053.4 L900.6,1052.9 L903.6,1052.4 L906.6,1051.9 L909.6,1051.4 L912.6,1051.0 L915.7,1050.5 L918.7,1050.0 L921.7,1049.5 L924.7,1049.0 L927.7,1048.5 L930.7,1048.0 L933.7,1047.5 L936.7,1047.0 L939.7,1046.5 L942.7,1046.0 L945.7,1045.5 L948.7,1044.9 L951.7,1044.4 L954.7,1043.9 L957.7,1043.4 L960.7,1042.9 L963.7,1042.4 L966.7,1041.8 L969.7,1041.3 L972.7,1040.8 L975.7,1040.3 L978.7,1039.7 L981.7,1039.2 L984.7,1038.6 L987.7,1038.1 L990.7,1037.5 L993.7,1037.0 L996.8,1036.4 L999.8,1035.9 L1002.8,1035.3 L1005.8,1034.7 L1008.8,1034.1 L1011.8,1033.5 L1014.8,1032.9 L1017.8,1032.3 L1020.8,1031.7 L1023.8,1031.1 L1026.8,1030.4 L1029.9,1029.8 L1032.9,1029.2 L1035.9,1028.5 L1038.9,1027.8 L1041.9,1027.1 L1044.9,1026.5 L1047.9,1025.8 L1051.0,1025.1 L1054.0,1024.3 L1057.0,1023.6 L1060.0,1022.9 L1063.0,1022.1 L1066.0,1021.3 L1069.1,1020.6 L1072.1,1019.8 L1075.1,1019.0 L1078.1,1018.1 L1081.1,1017.3 L1084.1,1016.5 L1087.2,1015.6 L1090.2,1014.7 L1093.2,1013.8 L1096.2,1012.9 L1099.2,1012.0 L1102.3,1011.1 L1105.3,1010.1 L1108.3,1009.2 L1111.3,1008.2 L1114.4,1007.2 L1117.4,1006.2 L1120.4,1005.1 L1123.4,1004.1 L1126.4,1003.0 L1129.5,1001.9 L1132.5,1000.8 L1135.5,999.7 L1138.5,998.5 L1141.6,997.4 L1144.6,996.2 L1147.6,995.0 L1150.7,993.8 L1153.7,992.5 L1156.7,991.2 L1159.7,990.0 L1162.8,988.7 L1165.8,987.3 L1168.8,986.0 L1171.8,984.6 L1174.9,983.2 L1177.9,981.8 L1180.9,980.3 L1184.0,978.9 L1187.0,977.4 L1190.0,975.8 L1193.0,974.3 L1196.1,972.7 L1199.1,971.1 L1202.1,969.5 L1205.2,967.9 L1208.2,966.2 L1211.2,964.5 L1214.2,962.8 L1217.3,961.1 L1220.3,959.4 L1223.3,957.6 L1226.3,955.8 L1229.3,954.0 L1232.4,952.2 L1235.4,950.4 L1238.4,948.6 L1241.4,946.7 L1244.4,944.8 L1247.4,942.9 L1250.5,941.0 L1253.5,939.1 L1256.5,937.2 L1259.5,935.3 L1262.5,933.3 L1265.5,931.4 L1268.5,929.4 L1271.5,927.4 L1274.5,925.5 L1277.5,923.5 L1280.5,921.5 L1283.6,919.5 L1286.6,917.5 L1289.6,915.5 L1292.6,913.5 L1295.6,911.5 L1298.6,909.4 L1301.6,907.4 L1304.6,905.4 L1307.6,903.4 L1310.6,901.4 L1313.6,899.4 L1316.6,897.4 L1319.6,895.4 L1322.6,893.3 L1325.6,891.3 L1328.6,889.3 L1331.5,887.3 L1334.5,885.4 L1337.5,883.4 L1340.5,881.4 L1343.5,879.4 L1346.5,877.5 L1349.5,875.5 L1352.5,873.6 L1355.5,871.6 L1358.5,869.7 L1361.5,867.8 L1364.5,865.9 L1367.4,864.0 L1370.4,862.1 L1373.4,860.2 L1376.4,858.3 L1379.4,856.5 L1382.4,854.6 L1385.4,852.8 L1388.4,850.9 L1391.4,849.1 L1394.3,847.3 L1397.3,845.5 L1400.3,843.7 L1403.3,841.9 L1406.3,840.2 L1409.3,838.4 L1412.3,836.7 L1415.3,834.9 L1418.2,833.2 L1421.2,831.5 L1424.2,829.8 L1427.2,828.2 L1430.2,826.5 L1433.2,824.9 L1436.1,823.2 L1439.1,821.6 L1442.1,820.0 L1445.1,818.4 L1448.1,816.8 L1451.1,815.3 L1454.0,813.7 L1457.0,812.2 L1460.0,810.7 L1463.0,809.2 L1466.0,807.7 L1468.9,806.2 L1471.9,804.8 L1474.9,803.4 L1477.9,802.0 L1480.8,800.6 L1483.8,799.2 L1486.8,797.8 L1489.8,796.5 L1492.8,795.2 L1495.7,793.9 L1498.7,792.6 L1501.7,791.3 L1504.7,790.1 L1507.6,788.8 L1510.6,787.6 L1513.6,786.5 L1516.6,785.3 L1519.5,784.1 L1522.5,783.0 L1525.5,781.9 L1528.5,780.8 L1531.4,779.7 L1534.4,778.7 L1537.4,777.7 L1540.4,776.6 L1543.3,775.6 L1546.3,774.7 L1549.3,773.7 L1552.3,772.7 L1555.2,771.8 L1558.2,770.9 L1561.2,770.0 L1564.2,769.1 L1567.2,768.2 L1570.1,767.4 L1573.1,766.5 L1576.1,765.7 L1579.1,764.9 L1582.1,764.1 L1585.0,763.3 L1588.0,762.6 L1591.0,761.8 L1594.0,761.1 L1597.0,760.3 L1599.9,759.6 L1602.9,758.9 L1605.9,758.2 L1608.9,757.6 L1611.9,756.9 L1614.9,756.2 L1617.8,755.6 L1620.8,755.0 L1623.8,754.3 L1626.8,753.7 L1629.8,753.1 L1632.8,752.5 L1635.8,751.9 L1638.8,751.4 L1641.7,750.8 L1644.7,750.2 L1647.7,749.7 L1650.7,749.2 L1653.7,748.6 L1656.7,748.1 L1659.7,747.6 L1662.7,747.1 L1665.7,746.6 L1668.6,746.1 L1671.6,745.6 L1674.6,745.1 L1677.6,744.7 L1680.6,744.2 L1683.6,743.7 L1686.6,743.3 L1689.6,742.8 L1692.6,742.4 L1695.6,741.9 L1698.6,741.5 L1701.6,741.1 L1704.6,740.6 L1707.6,740.2 L1710.6,739.8 L1713.6,739.4 L1716.5,739.0 L1719.5,738.5 L1722.5,738.1 L1725.5,737.7 L1728.5,737.3 L1731.5,736.9 L1734.5,736.5 L1737.5,736.1 L1740.5,735.7 L1743.5,735.3 L1746.5,734.9 L1749.5,734.5 L1752.5,734.1 L1755.5,733.7 L1758.5,733.3 L1761.5,732.9 L1764.5,732.4 L1767.5,732.0 L1770.5,731.6 L1773.5,731.2 L1776.6,730.8 L1779.6,730.4 L1782.6,730.0 L1785.6,729.5 L1788.6,729.1 L1791.6,728.7 L1794.6,728.2 L1797.6,727.8 L1800.6,727.3 L1803.6,726.9 L1806.6,726.4 L1809.6,726.0 L1812.6,725.5 L1815.6,725.0 L1818.6,724.6 L1821.6,724.1 L1824.7,723.6 L1827.7,723.1 L1830.7,722.6 L1833.7,722.1 L1836.7,721.6 L1839.7,721.1 L1842.7,720.5 L1845.7,720.0 L1848.7,719.4 L1851.7,718.9 L1850.3,710.9 L1847.3,711.5 L1844.3,712.0 L1841.3,712.6 L1838.3,713.1 L1835.3,713.6 L1832.3,714.2 L1829.3,714.7 L1826.3,715.2 L1823.3,715.7 L1820.4,716.2 L1817.4,716.7 L1814.4,717.1 L1811.4,717.6 L1808.4,718.1 L1805.4,718.5 L1802.4,719.0 L1799.4,719.4 L1796.4,719.9 L1793.4,720.3 L1790.4,720.7 L1787.4,721.2 L1784.4,721.6 L1781.4,722.0 L1778.4,722.5 L1775.4,722.9 L1772.5,723.3 L1769.5,723.7 L1766.5,724.1 L1763.5,724.5 L1760.5,724.9 L1757.5,725.3 L1754.5,725.7 L1751.5,726.1 L1748.5,726.5 L1745.5,727.0 L1742.5,727.4 L1739.5,727.8 L1736.5,728.2 L1733.5,728.6 L1730.5,729.0 L1727.5,729.4 L1724.5,729.8 L1721.5,730.2 L1718.5,730.6 L1715.5,731.0 L1712.4,731.4 L1709.4,731.9 L1706.4,732.3 L1703.4,732.7 L1700.4,733.1 L1697.4,733.6 L1694.4,734.0 L1691.4,734.5 L1688.4,734.9 L1685.4,735.4 L1682.4,735.8 L1679.4,736.3 L1676.4,736.7 L1673.4,737.2 L1670.4,737.7 L1667.4,738.2 L1664.3,738.7 L1661.3,739.2 L1658.3,739.7 L1655.3,740.2 L1652.3,740.7 L1649.3,741.2 L1646.3,741.7 L1643.3,742.3 L1640.3,742.8 L1637.2,743.4 L1634.2,744.0 L1631.2,744.5 L1628.2,745.1 L1625.2,745.7 L1622.2,746.3 L1619.2,747.0 L1616.2,747.6 L1613.1,748.2 L1610.1,748.9 L1607.1,749.5 L1604.1,750.2 L1601.1,750.9 L1598.1,751.6 L1595.0,752.3 L1592.0,753.0 L1589.0,753.8 L1586.0,754.5 L1583.0,755.3 L1579.9,756.1 L1576.9,756.9 L1573.9,757.7 L1570.9,758.5 L1567.9,759.3 L1564.8,760.2 L1561.8,761.1 L1558.8,761.9 L1555.8,762.8 L1552.8,763.8 L1549.7,764.7 L1546.7,765.6 L1543.7,766.6 L1540.7,767.6 L1537.6,768.6 L1534.6,769.6 L1531.6,770.6 L1528.6,771.7 L1525.5,772.8 L1522.5,773.8 L1519.5,775.0 L1516.5,776.1 L1513.4,777.2 L1510.4,778.4 L1507.4,779.6 L1504.4,780.8 L1501.3,782.0 L1498.3,783.3 L1495.3,784.6 L1492.3,785.8 L1489.2,787.2 L1486.2,788.5 L1483.2,789.8 L1480.2,791.2 L1477.2,792.6 L1474.1,794.0 L1471.1,795.4 L1468.1,796.8 L1465.1,798.3 L1462.0,799.7 L1459.0,801.2 L1456.0,802.7 L1453.0,804.3 L1450.0,805.8 L1446.9,807.3 L1443.9,808.9 L1440.9,810.5 L1437.9,812.1 L1434.9,813.7 L1431.9,815.3 L1428.8,817.0 L1425.8,818.6 L1422.8,820.3 L1419.8,822.0 L1416.8,823.7 L1413.8,825.4 L1410.7,827.1 L1407.7,828.8 L1404.7,830.6 L1401.7,832.4 L1398.7,834.1 L1395.7,835.9 L1392.7,837.7 L1389.7,839.5 L1386.6,841.3 L1383.6,843.2 L1380.6,845.0 L1377.6,846.9 L1374.6,848.7 L1371.6,850.6 L1368.6,852.5 L1365.6,854.4 L1362.6,856.3 L1359.5,858.2 L1356.5,860.1 L1353.5,862.0 L1350.5,863.9 L1347.5,865.9 L1344.5,867.8 L1341.5,869.8 L1338.5,871.7 L1335.5,873.7 L1332.5,875.7 L1329.5,877.7 L1326.5,879.7 L1323.4,881.7 L1320.4,883.7 L1317.4,885.7 L1314.4,887.7 L1311.4,889.7 L1308.4,891.7 L1305.4,893.7 L1302.4,895.7 L1299.4,897.8 L1296.4,899.8 L1293.4,901.8 L1290.4,903.8 L1287.4,905.8 L1284.4,907.8 L1281.4,909.8 L1278.4,911.8 L1275.5,913.8 L1272.5,915.8 L1269.5,917.8 L1266.5,919.8 L1263.5,921.7 L1260.5,923.7 L1257.5,925.6 L1254.5,927.6 L1251.5,929.5 L1248.5,931.4 L1245.5,933.3 L1242.6,935.2 L1239.6,937.1 L1236.6,938.9 L1233.6,940.8 L1230.6,942.6 L1227.6,944.4 L1224.7,946.2 L1221.7,948.0 L1218.7,949.8 L1215.7,951.6 L1212.7,953.3 L1209.8,955.0 L1206.8,956.7 L1203.8,958.4 L1200.8,960.0 L1197.9,961.6 L1194.9,963.2 L1191.9,964.8 L1189.0,966.4 L1186.0,967.9 L1183.0,969.4 L1180.0,970.9 L1177.1,972.3 L1174.1,973.8 L1171.1,975.2 L1168.2,976.6 L1165.2,978.0 L1162.2,979.3 L1159.2,980.6 L1156.3,981.9 L1153.3,983.2 L1150.3,984.5 L1147.3,985.7 L1144.4,986.9 L1141.4,988.1 L1138.4,989.3 L1135.5,990.5 L1132.5,991.6 L1129.5,992.8 L1126.5,993.9 L1123.6,995.0 L1120.6,996.0 L1117.6,997.1 L1114.6,998.1 L1111.6,999.1 L1108.7,1000.1 L1105.7,1001.1 L1102.7,1002.1 L1099.7,1003.0 L1096.8,1004.0 L1093.8,1004.9 L1090.8,1005.8 L1087.8,1006.7 L1084.8,1007.6 L1081.9,1008.4 L1078.9,1009.3 L1075.9,1010.1 L1072.9,1010.9 L1069.9,1011.7 L1066.9,1012.5 L1064.0,1013.3 L1061.0,1014.1 L1058.0,1014.8 L1055.0,1015.6 L1052.0,1016.3 L1049.0,1017.0 L1046.1,1017.7 L1043.1,1018.4 L1040.1,1019.1 L1037.1,1019.8 L1034.1,1020.5 L1031.1,1021.1 L1028.1,1021.8 L1025.2,1022.4 L1022.2,1023.1 L1019.2,1023.7 L1016.2,1024.3 L1013.2,1024.9 L1010.2,1025.5 L1007.2,1026.1 L1004.2,1026.7 L1001.2,1027.3 L998.2,1027.9 L995.2,1028.5 L992.3,1029.0 L989.3,1029.6 L986.3,1030.1 L983.3,1030.7 L980.3,1031.2 L977.3,1031.8 L974.3,1032.3 L971.3,1032.8 L968.3,1033.4 L965.3,1033.9 L962.3,1034.4 L959.3,1034.9 L956.3,1035.5 L953.3,1036.0 L950.3,1036.5 L947.3,1037.0 L944.3,1037.5 L941.3,1038.0 L938.3,1038.5 L935.3,1039.0 L932.3,1039.5 L929.3,1040.0 L926.3,1040.5 L923.3,1041.0 L920.3,1041.5 L917.3,1042.0 L914.3,1042.5 L911.4,1043.0 L908.4,1043.5 L905.4,1044.0 L902.4,1044.5 L899.4,1045.0 L896.4,1045.5 L893.4,1045.9 L890.4,1046.4 L887.4,1046.9 L884.4,1047.4 L881.4,1047.9 L878.4,1048.3 L875.4,1048.8 L872.4,1049.3 L869.4,1049.8 L866.4,1050.2 L863.4,1050.7 L860.4,1051.2 L857.4,1051.6 L854.4,1052.1 L851.4,1052.6 L848.4,1053.0 L845.4,1053.5 L842.4,1054.0 L839.4,1054.4 L836.4,1054.9 L833.4,1055.4 L830.4,1055.8 L827.4,1056.3 L824.4,1056.7 L821.4,1057.2 L818.4,1057.6 L815.4,1058.1 L812.4,1058.5 L809.4,1059.0 L806.4,1059.5 L803.4,1059.9 L800.4,1060.4 L797.4,1060.8 L794.4,1061.3 L791.4,1061.7 L788.4,1062.1 L785.4,1062.6 L782.4,1063.0 L779.4,1063.5 L776.4,1063.9 L773.4,1064.4 L770.4,1064.8 L767.4,1065.3 L764.4,1065.7 L761.4,1066.2 L758.4,1066.6 L755.4,1067.0 L752.4,1067.5 L749.4,1067.9 L746.4,1068.4 L743.4,1068.8 L740.4,1069.2 L737.4,1069.7 L734.4,1070.1 L731.4,1070.6 L728.4,1071.0 L725.4,1071.4 L722.4,1071.9 L719.4,1072.3 L716.4,1072.8 L713.4,1073.2 L710.4,1073.6 L707.4,1074.1 L704.4,1074.5 L701.4,1075.0 L698.4,1075.4 L695.4,1075.8 L692.4,1076.3 L689.4,1076.7 L686.4,1077.2 L683.4,1077.6 L680.4,1078.0 L677.4,1078.5 L674.4,1078.9 L671.4,1079.4 L668.4,1079.8 L665.4,1080.3 L662.4,1080.7 L659.4,1081.1 L656.4,1081.6 L653.4,1082.0 L650.4,1082.5 L647.4,1082.9 L644.4,1083.4 L641.4,1083.8 L638.4,1084.2 L635.4,1084.7 L632.4,1085.1 L629.4,1085.6 L626.4,1086.0 L623.4,1086.5 L620.4,1086.9 L617.4,1087.4 L614.4,1087.8 L611.4,1088.3 L608.4,1088.7 L605.4,1089.2 L602.4,1089.6 L599.4,1090.1 L596.4,1090.5 L593.4,1091.0 L590.4,1091.4 L587.4,1091.9 L584.4,1092.3 L581.4,1092.8 L578.4,1093.3 L575.4,1093.7 L572.4,1094.2 L569.4,1094.6 L566.4,1095.1 L563.4,1095.5 L560.4,1096.0 L557.4,1096.5 L554.4,1096.9 L551.4,1097.4 L548.4,1097.8 L545.4,1098.3 L542.4,1098.8 L539.4,1099.2 L536.4,1099.7 L533.4,1100.1 L530.4,1100.6 L527.4,1101.1 L524.4,1101.5 L521.4,1102.0 L518.4,1102.5 L515.4,1102.9 L512.4,1103.4 L509.4,1103.9 L506.4,1104.3 L503.4,1104.8 L500.4,1105.3 L497.4,1105.7 L494.4,1106.2 L491.4,1106.7 L488.4,1107.1 L485.4,1107.6 L482.4,1108.1 L479.4,1108.5 L476.4,1109.0 L473.4,1109.5 L470.4,1109.9 L467.4,1110.4 L464.4,1110.9 L461.4,1111.4 L458.4,1111.8 L455.4,1112.3 L452.4,1112.8 L449.4,1113.3 L446.4,1113.7 L443.4,1114.2 L440.4,1114.7 L437.4,1115.2 L434.4,1115.6 L431.4,1116.1 L428.4,1116.6 L425.4,1117.1 L422.4,1117.6 L419.4,1118.0 L416.4,1118.5 L413.4,1119.0 L410.4,1119.5 L407.4,1120.0 L404.4,1120.4 L401.4,1120.9 L398.4,1121.4 L395.4,1121.9 L392.4,1122.4 L389.4,1122.8 L386.4,1123.3 L383.4,1123.8 L380.4,1124.3 L377.4,1124.8 L374.4,1125.3 L371.4,1125.8 L368.4,1126.2 L365.4,1126.7 L362.4,1127.2 L359.4,1127.7 L356.4,1128.2 L353.4,1128.7 L350.4,1129.2 L347.4,1129.7 L344.4,1130.2 L341.4,1130.6 L338.4,1131.1 L335.4,1131.6 L332.3,1132.1 L329.3,1132.6 L326.3,1133.1 L323.3,1133.6 L320.3,1134.1 L317.3,1134.6 L314.3,1135.1 L311.3,1135.6 L308.3,1136.1 L305.3,1136.6 L302.3,1137.1 L299.3,1137.6 L296.3,1138.0 L293.3,1138.5 L290.3,1139.0 L287.3,1139.5 L284.3,1140.0 L281.3,1140.5 L278.3,1141.0 L275.3,1141.5 L272.3,1142.0 L269.3,1142.5 L266.3,1143.0 L263.3,1143.5 L260.3,1144.0 L257.3,1144.5 L254.3,1145.0 L251.3,1145.5 L248.3,1146.1 L245.3,1146.6 L242.3,1147.1 L239.3,1147.6 L236.3,1148.1 L233.3,1148.6 L230.3,1149.1 L227.3,1149.6Z" fill="#000000"/>
<path d="M232.0,506.0L248.5,536.0L215.5,536.0Z" fill="#0000ff"/>
<path d="M451.5,472.8L468.0,502.8L435.0,502.8Z" fill="#0000ff"/>
<path d="M676.0,418.5L692.5,448.5L659.5,448.5Z" fill="#0000ff"/>
<path d="M894.0,296.5L910.5,326.5L877.5,326.5Z" fill="#0000ff"/>
<path d="M1113.2,211.0L1129.7,241.0L1096.7,241.0Z" fill="#0000ff"/>
<path d="M1333.3,169.5L1349.8,199.5L1316.8,199.5Z" fill="#0000ff"/>
<path d="M1554.3,147.3L1570.8,177.3L1537.8,177.3Z" fill="#0000ff"/>
<path d="M1774.2,130.5L1790.7,160.5L1757.7,160.5Z" fill="#0000ff"/>
<circle cx="437.0" cy="791.9" r="14.2" fill="#ff0000"/>
<circle cx="657.7" cy="756.5" r="14.2" fill="#ff0000"/>
<circle cx="879.0" cy="705.3" r="14.2" fill="#ff0000"/>
<circle cx="1098.6" cy="602.4" r="14.2" fill="#ff0000"/>
<circle cx="1319.6" cy="534.0" r="14.2" fill="#ff0000"/>
<circle cx="1539.8" cy="494.2" r="14.2" fill="#ff0000"/>
<circle cx="1759.5" cy="466.6" r="14.2" fill="#ff0000"/>
<rect x="218.8" y="1139.2" width="26.5" height="26.5" fill="#000"/>
<rect x="439.6" y="1102.8" width="26.5" height="26.5" fill="#000"/>
<rect x="660.6" y="1069.8" width="26.5" height="26.5" fill="#000"/>
<rect x="880.0" y="1034.8" width="26.5" height="26.5" fill="#000"/>
<rect x="1099.8" y="990.8" width="26.5" height="26.5" fill="#000"/>
<rect x="1320.8" y="865.0" width="26.5" height="26.5" fill="#000"/>
<rect x="1541.7" y="755.2" width="26.5" height="26.5" fill="#000"/>
<rect x="1761.8" y="714.5" width="26.5" height="26.5" fill="#000"/>
</g>
<path d="M719.9,326.0L742.2,353.6M767.4,384.9L789.7,412.5M815.0,443.8L837.3,471.5M862.5,502.8L884.8,530.4M910.0,561.7L932.3,589.3M957.6,620.6L979.9,648.2M1005.1,679.5L1027.4,707.1M1052.6,738.4L1074.9,766.0M1100.2,797.3L1122.5,825.0M1147.7,856.2L1170.0,883.9M1195.2,915.2L1217.5,942.8M1242.8,974.1L1265.1,1001.7M1290.3,1033.0L1312.6,1060.6M673.6,268.6L693.7,293.5" stroke="#000" stroke-width="4.6" fill="none"/>
<path d="M661.4,252.6L690.6,275.4L685.5,279.5L672,286.8Z" fill="#000"/>
<line x1="229" y1="54.5" x2="1856" y2="54.5" stroke="#bdbdbd" stroke-width="3"/>
<line x1="1856.4" y1="56" x2="1856.4" y2="1266" stroke="#aaaaaa" stroke-width="2.8"/>
<rect x="232" y="58.5" width="1620.5" height="1192.5" fill="none" stroke="#000" stroke-width="5.9"/>
<path d="M232.0,1251L232.0,1278M340.1,1251L340.1,1266M448.1,1251L448.1,1278M556.1,1251L556.1,1266M664.2,1251L664.2,1278M772.2,1251L772.2,1266M880.3,1251L880.3,1278M988.4,1251L988.4,1266M1096.4,1251L1096.4,1278M1204.4,1251L1204.4,1266M1312.5,1251L1312.5,1278M1420.5,1251L1420.5,1266M1528.6,1251L1528.6,1278M1636.6,1251L1636.6,1266M1744.7,1251L1744.7,1278M1852.8,1251L1852.8,1266" stroke="#000" stroke-width="6.4"/>
<text x="232.0" y="1344.6" text-anchor="middle" class="tl">50</text>
<text x="448.1" y="1344.6" text-anchor="middle" class="tl">52</text>
<text x="664.2" y="1344.6" text-anchor="middle" class="tl">54</text>
<text x="880.3" y="1344.6" text-anchor="middle" class="tl">56</text>
<text x="1096.4" y="1344.6" text-anchor="middle" class="tl">58</text>
<text x="1312.5" y="1344.6" text-anchor="middle" class="tl">60</text>
<text x="1528.6" y="1344.6" text-anchor="middle" class="tl">62</text>
<text x="1744.7" y="1344.6" text-anchor="middle" class="tl">64</text>
<text style="font-size:97.7px"><tspan x="674.9" y="1427">Temperature </tspan><tspan x="1251.7" y="1426.8" style="font-size:95px" textLength="27.84" lengthAdjust="spacingAndGlyphs">(</tspan><tspan x="1270.7" y="1427.8" style="font-size:91.7px;font-family:'DejaVu Sans','Noto Sans CJK SC',sans-serif;font-weight:200" textLength="99.9" lengthAdjust="spacingAndGlyphs">℃</tspan><tspan x="1385.3" y="1426.8" style="font-size:95px" textLength="27.53" lengthAdjust="spacingAndGlyphs">)</tspan></text>
<text transform="translate(144.8,1047.2) rotate(-90)" style="font-size:97.1px">Heat flow (W/g)</text>
<text transform="translate(35.2,290.5)" style="font-size:83.6px">Endo</text>
<text transform="translate(1307.9,279.5)" style="font-size:60.3px">PA6/CNALCPA30</text>
<text transform="translate(1413.4,601.8)" style="font-size:60.5px">PA6/ALCPA20</text>
<text x="1608.2" y="834.3" style="font-size:60.5px" textLength="113.4" lengthAdjust="spacingAndGlyphs">PA6</text>
<text style="font-size:59.2px"><tspan x="844.0" y="412.0">55.5 </tspan><tspan x="969.3" y="409.9" style="font-size:56.9px;font-family:'DejaVu Sans','Noto Sans CJK SC',sans-serif;font-weight:200">℃</tspan></text>
<text style="font-size:59.2px"><tspan x="1069.3" y="691.0">56.8 </tspan><tspan x="1193.8" y="691.6" style="font-size:56.9px;font-family:'DejaVu Sans','Noto Sans CJK SC',sans-serif;font-weight:200">℃</tspan></text>
<text style="font-size:59px"><tspan x="1298.5" y="986.8">60.2 </tspan><tspan x="1424.0" y="986.4" style="font-size:56.9px;font-family:'DejaVu Sans','Noto Sans CJK SC',sans-serif;font-weight:200">℃</tspan></text>
<path d="M139.7,141L139.7,212" stroke="#000" stroke-width="9.5" stroke-linecap="round"/>
<path d="M137,86.5L142,86.5L155.5,132L155.5,140.5L123.2,140.5L123.2,132Z" fill="#000"/>
</svg>
</body></html>
